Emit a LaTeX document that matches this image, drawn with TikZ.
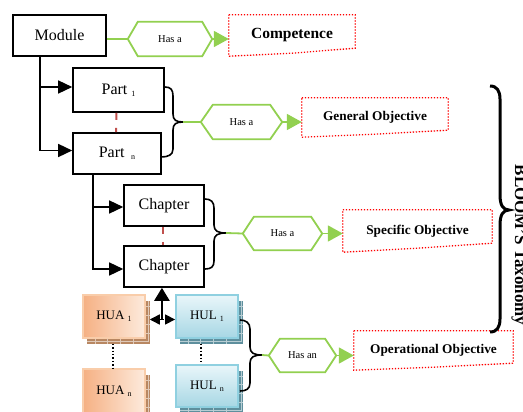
\documentclass[tikz,border=0pt]{standalone}
\usepackage{fontspec}
\setmainfont{Liberation Serif}
\usetikzlibrary{arrows.meta,calc}
\definecolor{hgreen}{HTML}{92D050}
\definecolor{dred}{HTML}{C0504D}
\definecolor{huaA}{HTML}{F5B083}
\definecolor{huaB}{HTML}{FDEBDD}
\definecolor{huaBorder}{HTML}{F9CDAA}
\definecolor{huaStrip}{HTML}{B88762}
\definecolor{hulA}{HTML}{E9F6FA}
\definecolor{hulB}{HTML}{A7D7E4}
\definecolor{hulBorder}{HTML}{8FD0E0}
\definecolor{hulStrip}{HTML}{5E8F9D}
\newcommand{\sbs}[1]{{\fontsize{8}{8}\selectfont\raisebox{-2pt}{#1}}}
\newcommand{\hexout}[2]{%
  \draw[gline, line join=miter] (#1.west) -- ($(#1.north west)+(#2,0)$) -- ($(#1.north east)+(-#2,0)$) -- (#1.east) -- ($(#1.south east)+(-#2,0)$) -- ($(#1.south west)+(#2,0)$) -- cycle;}
\newcommand{\objout}[3]{%
  \draw[objline] (#1.north west) -- (#1.north east) -- ($(#1.south east)+(0,-#2)$) -- ($(#1.south)+(0,-#3)$) -- (#1.south west) -- cycle;}
\newcommand{\shadowstrip}[2]{%
  \fill[#2] ($(#1.north east)+(0,7)$) rectangle ($(#1.south east)+(4,5)$);
  \fill[#2] ($(#1.south west)+(5,0)$) rectangle ($(#1.south east)+(4,5)$);
  \foreach \i in {0.2,0.4,0.6,0.8}{
    \draw[white!55!#2, line width=0.4pt] ($(#1.south west)!\i!(#1.south east)$) -- ++(0,5);
    \draw[white!55!#2, line width=0.4pt] ($(#1.north east)!\i!(#1.south east)+(0,3)$) -- ++(4,0);}
  \draw[white!55!#2, line width=0.4pt] ($(#1.south west)+(5,2.5)$) -- ($(#1.south east)+(2,2.5)$) -- ($(#1.north east)+(2,7)$);}
\begin{document}
\begin{tikzpicture}[x=1pt,y=-1pt,
  mainbox/.style={draw=black, line width=1.6pt, inner sep=0pt, font=\fontsize{16}{16}\selectfont},
  hexbox/.style={inner sep=0pt, font=\fontsize{10.5}{10.5}\selectfont},
  objbox/.style={inner sep=0pt, font=\bfseries\fontsize{13.3}{13.3}\selectfont},
  objline/.style={draw=red, line width=1.3pt, dash pattern=on 1.3pt off 1.7pt},
  gline/.style={draw=hgreen, line width=1.8pt},
  garr/.style={draw=hgreen, line width=1.8pt, -{Triangle[length=15pt,width=16pt]}, hgreen},
  barr/.style={line width=1.5pt, -{Triangle[length=14pt,width=13pt]}},
  reddash/.style={draw=dred, line width=2pt, dash pattern=on 7pt off 8pt},
  bracestyle/.style={line width=1.6pt},
  huabox/.style={draw=huaBorder, line width=1.5pt, left color=huaA, right color=huaB, minimum width=62pt, minimum height=43pt, inner sep=0pt, font=\fontsize{13}{13}\selectfont},
  hulbox/.style={draw=hulBorder, line width=1.8pt, top color=hulA, bottom color=hulB, minimum width=62pt, minimum height=43pt, inner sep=0pt, font=\fontsize{13}{13}\selectfont},
  dotline/.style={line width=1.4pt, dash pattern=on 1.4pt off 2pt}
]
\useasboundingbox (0,0) rectangle (523,412);

% top level
\node[mainbox, minimum width=93pt, minimum height=41pt] (module) at (59.5,35.5) {Module};
\node[hexbox, minimum width=84pt, minimum height=34pt] (hexA) at (170,39) {Has a};
\node[objbox, minimum width=126pt, minimum height=41pt, font=\bfseries\fontsize{15.5}{15.5}\selectfont] (comp) at (292,35.5) {Competence};
\hexout{hexA}{10}
\objout{comp}{8}{3}
\draw[gline] (module.east |- hexA.west) -- (hexA.west);
\draw[garr] (hexA.east) -- (hexA.east -| comp.west);

% parts
\node[mainbox, minimum width=91pt, minimum height=44pt] (part1) at (118.5,90) {Part \sbs{1}};
\node[mainbox, minimum width=88pt, minimum height=41pt] (partn) at (117,153.5) {Part \,\sbs{n}};
\coordinate (m1) at (40,0);
\draw[barr] (m1 |- module.south) |- ($(part1.west)+(0,-3)$);
\draw[barr] (m1 |- module.south) |- ($(partn.west)+(0,-3)$);
\draw[reddash] ($(part1.south)+(-2,0)$) -- ($(partn.north)+(-1,0)$);
\draw[bracestyle] (165,87) .. controls (171,87) and (173,90) .. (173,96) -- (173,114) .. controls (173,120) and (176,122) .. (183,122)
  .. controls (176,122) and (173,124) .. (173,130) -- (173,149) .. controls (173,155) and (168,157) .. (161,157);
\coordinate (t1) at (183,122);
\node[hexbox, minimum width=81pt, minimum height=34pt] (hexB) at (241.5,122) {Has a};
\hexout{hexB}{12}
\node[objbox, minimum width=146pt, minimum height=39pt] (gen) at (375,117.5) {General Objective};
\objout{gen}{7}{3}
\draw[gline] (t1) -- (hexB.west);
\draw[garr] (hexB.east) -- (hexB.east -| gen.west);

% chapters
\node[mainbox, minimum width=80pt, minimum height=41pt] (ch1) at (164,205.5) {Chapter};
\node[mainbox, minimum width=80pt, minimum height=41pt] (ch2) at (164,266.5) {Chapter};
\coordinate (m2) at (93,0);
\draw[barr] (m2 |- partn.south) |- ($(ch1.west)+(0,1.5)$);
\draw[barr] (m2 |- partn.south) |- ($(ch2.west)+(0,2.5)$);
\draw[reddash] ($(ch1.south)+(-1,0)$) -- ($(ch2.north)+(-1,0)$);
\draw[bracestyle] (205,199) .. controls (211,199) and (214,202) .. (214,208) -- (214,225) .. controls (214,231) and (218,233) .. (226,233)
  .. controls (218,233) and (214,235) .. (214,241) -- (214,261) .. controls (214,267) and (211,269) .. (205,269);
\coordinate (t2) at (226,233);
\node[hexbox, minimum width=79pt, minimum height=33pt] (hexC) at (282.5,233.5) {Has a};
\hexout{hexC}{11}
\node[objbox, minimum width=149pt, minimum height=42pt] (spec) at (417.5,231) {Specific Objective};
\objout{spec}{9}{4}
\draw[gline] (t2) -- (hexC.west);
\draw[garr] (hexC.east) -- (hexC.east -| spec.west);

% HUA / HUL
\node[huabox] (hua1) at (114,316.5) {HUA \sbs{1}};
\node[huabox, minimum height=44pt] (huan) at (114,391) {HUA \sbs{n}};
\node[hulbox] (hul1) at (207,316.5) {HUL \sbs{1}};
\node[hulbox, minimum height=42pt] (huln) at (207,386) {HUL \sbs{n}};
\shadowstrip{hua1}{huaStrip}
\shadowstrip{huan}{huaStrip}
\shadowstrip{hul1}{hulStrip}
\shadowstrip{huln}{hulStrip}
\draw[dotline] ($(hua1.south)+(-1,5)$) -- ($(huan.north)+(-1,0)$);
\draw[dotline] ($(hul1.south)+(-6,5)$) -- ($(huln.north)+(-6,0)$);
\coordinate (mid) at ($(hua1.east)!0.5!(hul1.west)+(1.5,3)$);
\draw[dotline, {Triangle[length=10pt,width=10pt]}-{Triangle[length=10pt,width=10pt]}] ($(hua1.east)+(4,3)$) -- ($(hul1.west)+(0,3)$);
\draw[line width=2.4pt, -{Triangle[length=13pt,width=15pt]}] (mid) -- (mid |- ch2.south);
\draw[bracestyle] (240,320) .. controls (246,320) and (250,323) .. (250,329) -- (250,347) .. controls (250,353) and (254,355) .. (262,355)
  .. controls (254,355) and (250,357) .. (250,363) -- (250,383) .. controls (250,389) and (246,391) .. (240,391);
\coordinate (t3) at (262,355);
\node[hexbox, minimum width=67pt, minimum height=33pt] (hexD) at (302.5,355.5) {Has an};
\hexout{hexD}{11}
\node[objbox, minimum width=159pt, minimum height=39pt] (oper) at (433.5,350.5) {Operational Objective};
\objout{oper}{7}{3}
\draw[gline] (t3) -- (hexD.west);
\draw[garr] (hexD.east) -- (hexD.east -| oper.west);

% Bloom's brace
\draw[line width=3pt] (490,86) .. controls (497,86) and (500,91) .. (500,99) -- (500,195) .. controls (500,205) and (503,210) .. (509,210)
  .. controls (503,210) and (500,215) .. (500,225) -- (500,319) .. controls (500,327) and (497,332) .. (490,332);
\node[rotate=-90, anchor=base, font=\bfseries\fontsize{17}{17}\selectfont, inner sep=0pt] (bloom) at (515,245) {BLOOM'S Taxonomy};
\end{tikzpicture}
\end{document}
